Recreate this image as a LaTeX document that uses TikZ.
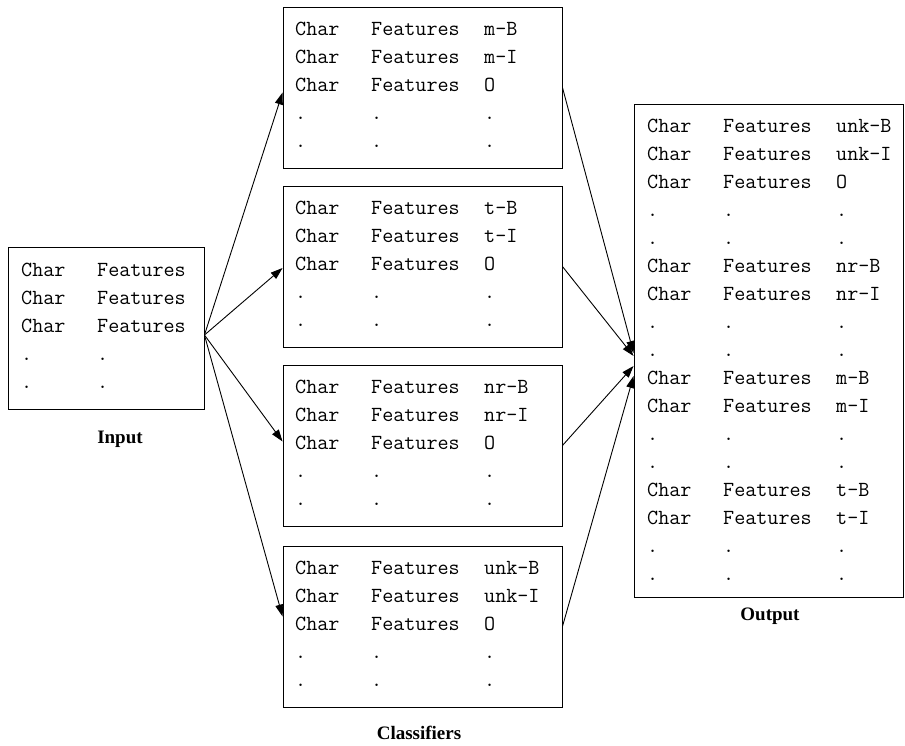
\documentclass[tikz,border=0pt]{standalone}
\usepackage{fontspec}
\setmainfont{Liberation Serif}
\usetikzlibrary{arrows.meta}
\newcommand\rw[3]{\makebox[76pt][l]{#1}\makebox[113pt][l]{#2}#3}
\newcommand\fl{\rule{0pt}{20pt}}
\begin{document}
\begin{tikzpicture}[x=1pt,y=-1pt,
  box/.style={draw, line width=0.9pt, inner sep=0pt, rectangle},
  cls/.style={box, minimum width=279pt, minimum height=161pt},
  txt/.style={anchor=north west, inner sep=0pt, align=left, font=\ttfamily\fontsize{21.5}{28}\selectfont},
  lbl/.style={inner sep=0pt, font=\bfseries\fontsize{19}{20}\selectfont},
  arr/.style={line width=0.9pt, -{Triangle[length=12pt,width=8pt]}}]
\useasboundingbox (0,0) rectangle (905,745);
% Input
\node[box, minimum width=196pt, minimum height=162pt] (in) at (106,328) {};
\node[txt] (intxt) at (21,256) {\fl\rw{Char}{Features}{}\\\rw{Char}{Features}{}\\\rw{Char}{Features}{}\\\rw{.}{.}{}\\\rw{.}{.}{}};
\node[lbl] (inlbl) at (120,439) {Input};
% Classifiers
\node[cls] (c1) at (422.5,87.5) {};
\node[cls] (c2) at (422.5,266.5) {};
\node[cls] (c3) at (422.5,445.5) {};
\node[cls] (c4) at (422.5,626.5) {};
\node[txt] (t1) at (295,15) {\fl\rw{Char}{Features}{m-B}\\\rw{Char}{Features}{m-I}\\\rw{Char}{Features}{O}\\\rw{.}{.}{.}\\\rw{.}{.}{.}};
\node[txt] (t2) at (295,194) {\fl\rw{Char}{Features}{t-B}\\\rw{Char}{Features}{t-I}\\\rw{Char}{Features}{O}\\\rw{.}{.}{.}\\\rw{.}{.}{.}};
\node[txt] (t3) at (295,373) {\fl\rw{Char}{Features}{nr-B}\\\rw{Char}{Features}{nr-I}\\\rw{Char}{Features}{O}\\\rw{.}{.}{.}\\\rw{.}{.}{.}};
\node[txt] (t4) at (295,554) {\fl\rw{Char}{Features}{unk-B}\\\rw{Char}{Features}{unk-I}\\\rw{Char}{Features}{O}\\\rw{.}{.}{.}\\\rw{.}{.}{.}};
\node[lbl] (clbl) at (419,733) {Classifiers};
% Output
\node[box, minimum width=269pt, minimum height=493pt] (out) at (768.5,350.5) {};
\node[txt] (otxt) at (647,112) {\fl\rw{Char}{Features}{unk-B}\\\rw{Char}{Features}{unk-I}\\\rw{Char}{Features}{O}\\\rw{.}{.}{.}\\\rw{.}{.}{.}\\
\rw{Char}{Features}{nr-B}\\\rw{Char}{Features}{nr-I}\\\rw{.}{.}{.}\\\rw{.}{.}{.}\\
\rw{Char}{Features}{m-B}\\\rw{Char}{Features}{m-I}\\\rw{.}{.}{.}\\\rw{.}{.}{.}\\
\rw{Char}{Features}{t-B}\\\rw{Char}{Features}{t-I}\\\rw{.}{.}{.}\\\rw{.}{.}{.}};
\node[lbl] (olbl) at (770,616) {Output};
% Arrows input -> classifiers
\draw[arr] ([yshift=-7pt]in.east) -- ([yshift=-5pt]c1.west);
\draw[arr] ([yshift=-7pt]in.east) -- ([yshift=-1.5pt]c2.west);
\draw[arr] ([yshift=-7pt]in.east) -- ([yshift=4pt]c3.west);
\draw[arr] ([yshift=-7pt]in.east) -- ([yshift=10pt]c4.west);
% Arrows classifiers -> output
\draw[arr] (c1.east) -- ([yshift=-2.5pt]out.west);
\draw[arr] (c2.east) -- ([yshift=-5.5pt]out.west);
\draw[arr] (c3.east) -- ([yshift=-15.5pt]out.west);
\draw[arr] (c4.east) -- ([yshift=-25.5pt]out.west);
\end{tikzpicture}
\end{document}
